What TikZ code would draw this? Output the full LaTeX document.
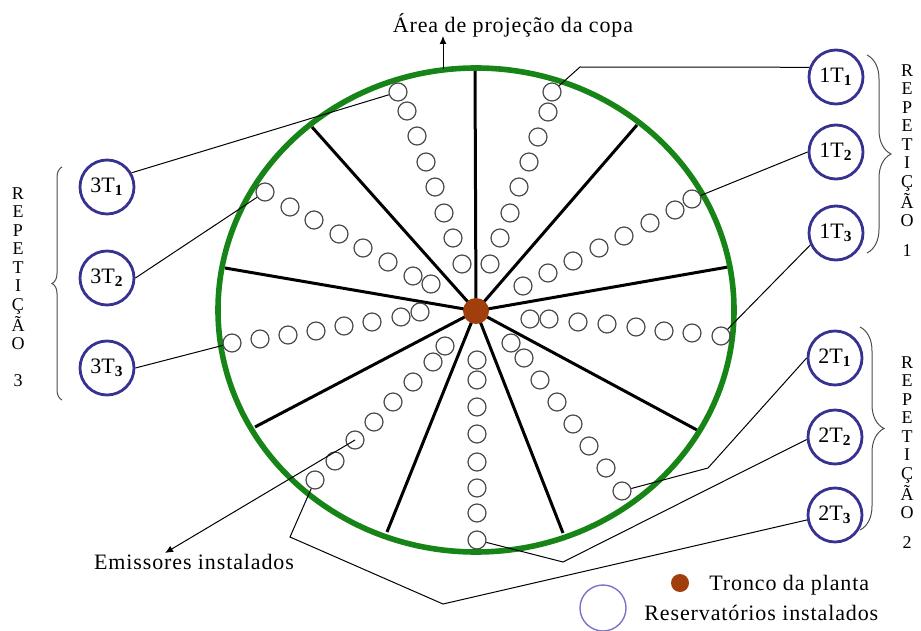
\documentclass[tikz,border=0pt]{standalone}
\usepackage{fontspec}
\setmainfont{Liberation Serif}
\newfontfamily\spaced{Liberation Serif}[LetterSpace=4]
\usetikzlibrary{arrows.meta, decorations.pathreplacing}
\definecolor{canopy}{RGB}{22,132,22}
\definecolor{trunk}{RGB}{160,62,12}
\definecolor{navy}{RGB}{55,50,145}
\definecolor{lilac}{RGB}{125,115,195}
\definecolor{ringgray}{RGB}{75,75,75}

\begin{document}
\begin{tikzpicture}[x=0.5pt, y=-0.5pt,
  resv/.style={circle, draw=ringgray, line width=0.6pt, minimum size=9pt, inner sep=0pt},
  treat/.style={circle, draw=navy, fill=white, line width=1.4pt, minimum size=27pt, inner sep=0pt,
    font=\fontsize{11}{13}\selectfont},
  lbl/.style={font=\spaced\fontsize{11}{13}\selectfont, inner sep=0pt},
  rep/.style={align=center, font=\fontsize{9}{9.25}\selectfont, inner sep=0pt, anchor=north},
  conn/.style={line width=0.5pt},
  tip/.style={conn, -{Latex[length=4pt,width=3.5pt]}},
  spoke/.style={line width=1.5pt},
  bracer/.style={decorate, decoration={brace, amplitude=#1}, line width=0.5pt, draw=black!70}]
  \useasboundingbox (0,0) rectangle (921,631);
  % spokes and canopy
  \coordinate (c) at (476,311);
  \foreach \x/\y in {475/70, 637/125, 728/267, 697/430, 563/533, 387/532, 255/427, 225/268, 312/127}
    \draw[spoke] (c) -- (\x,\y);
  \draw[canopy, line width=2.8pt] (476,310) ellipse [x radius=258, y radius=242];
  % reservoirs, outer one first
  \foreach \r/\lst in {
    a/{398/92, 407/111, 417/136, 426/162, 435/187, 444/213, 453/238, 462/264},
    b/{265/192, 290/207, 314/220, 339/234, 363/248, 388/262, 413/276, 431/284},
    c/{552/92, 548/112, 538/137, 529/162, 519/187, 510/213, 500/238, 490/264},
    d/{692/199, 675/210, 650/223, 624/236, 599/248, 573/261, 548/273, 523/286},
    e/{721/336, 692/333, 664/331, 636/327, 607/324, 578/322, 549/319, 530/319},
    f/{622/491, 606/468, 589/446, 573/424, 557/402, 540/380, 524/358, 511/343},
    g/{477/540, 477/513, 477/488, 477/462, 477/434, 477/407, 477/380, 477/360},
    h/{315/480, 335/461, 355/440, 374/422, 393/402, 413/382, 433/362, 445/346},
    i/{232/343, 260/339, 288/335, 316/331, 344/326, 372/322, 401/317, 420/312}}
  {
    \foreach \px/\py [count=\k] in \lst
      \node[resv] (\r\k) at (\px,\py) {};
  }
  \node[circle, fill=trunk, minimum size=13pt, inner sep=0pt] (tronco) at (c) {};
  % treatments
  \foreach \rp/\tn/\x/\y in {1/1/836/77, 1/2/836/152, 1/3/836/233,
                              2/1/835/358, 2/2/835/437, 2/3/835/515,
                              3/1/107/187, 3/2/107/278, 3/3/107/368}
    \node[treat] (t\rp\tn) at (\x,\y) {\rp T\textsubscript{\textbf{\tn}}};
  \draw[conn] (t11.160) -- (580,67) -- (c1);
  \draw[conn] (t12.west) -- (d1);
  \draw[conn] (t13.205) -- (e1);
  \draw[conn] (t21.west) -- (708,468) -- (f1);
  \draw[conn] (t22.185) -- (563,562) -- (g1);
  \draw[conn] (t23.190) -- (443,604) -- (290,537) -- (h1);
  \draw[conn] (t31.30) -- (a1);
  \draw[conn] (t32.east) -- (b1);
  \draw[conn] (t33.east) -- (i1);
  % repetitions
  \draw[bracer=12pt] (867,55) -- (867,253);
  \draw[bracer=12pt] (860,327) -- (860,530);
  \draw[bracer=5pt] (62,400) -- (62,167);
  \node[rep] (rep1) at (907,64) {R\\E\\P\\E\\T\\I\\Ç\\Ã\\O\\[5.5pt]1};
  \node[rep] (rep2) at (907,356) {R\\E\\P\\E\\T\\I\\Ç\\Ã\\O\\[5.5pt]2};
  \node[rep] (rep3) at (18,187) {R\\E\\P\\E\\T\\I\\Ç\\Ã\\O\\[9pt]3};
  % labels
  \node[lbl, anchor=base] (area) at (513,33) {Área de projeção da copa};
  \coordinate (rim) at (443,69);
  \coordinate (areatip) at (443,36);
  \draw[tip] (rim) -- (areatip);
  \node[lbl, anchor=base] (emis) at (194,569) {Emissores instalados};
  \coordinate (emistip) at (165,553);
  \draw[tip] (h3.center) -- (emistip);
  % legend
  \node[circle, fill=trunk, minimum size=9pt, inner sep=0pt] (ldot) at (680,583) {};
  \node[lbl, anchor=base west] (ltronco) at (709,590) {Tronco da planta};
  \node[circle, draw=lilac, line width=0.7pt, minimum size=23pt] (lres) at (603,608) {};
  \node[lbl, anchor=base west] (lreserv) at (644,620) {Reservatórios instalados};
\end{tikzpicture}
\end{document}
